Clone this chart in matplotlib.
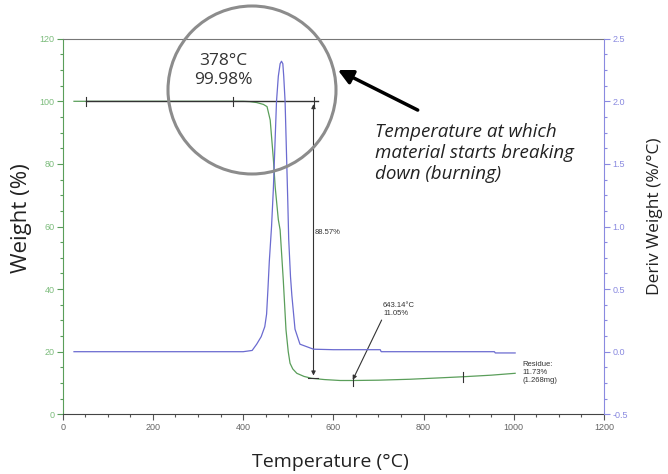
import matplotlib.pyplot as plt
from matplotlib.patches import Ellipse
from matplotlib.ticker import MultipleLocator, FormatStrFormatter

# weight curve (green)
temp_w = [25, 100, 200, 300, 400, 415, 430, 445, 453, 460, 467, 471, 478, 482,
          489, 495, 500, 504, 510, 519, 535, 552, 580, 615, 644, 700, 770, 830,
          888, 950, 1003]
weight = [100, 100, 100, 100, 100, 99.9, 99.6, 99.0, 98.3, 94, 81.6, 72.7, 62.2, 58.9,
          42.9, 27, 20, 16.3, 14.5, 13.1, 12.1, 11.5, 11.1, 10.8, 10.8, 10.9, 11.2, 11.6,
          12.0, 12.5, 13.1]

# derivative curve (blue)
temp_d = [25, 100, 200, 300, 400, 420, 430, 440, 448, 452, 455, 458, 463, 467,
          471, 474, 478, 482, 485, 488, 490, 493, 496, 499, 501, 505, 508, 515,
          526, 556, 600, 704, 706, 957, 959, 1003]
deriv = [0.0, 0.0, 0.0, 0.0, 0.0, 0.01, 0.06, 0.12, 0.2, 0.3, 0.5, 0.72, 1.0, 1.3,
         1.7, 2.0, 2.2, 2.3, 2.32, 2.3, 2.2, 2.0, 1.6, 1.2, 0.9, 0.6, 0.45, 0.18,
         0.06, 0.02, 0.016, 0.016, 0.0, 0.0, -0.01, -0.01]

step_start, onset_t, step_end = 52, 378, 556
start_w, end_w = 100, 11.5
min_t, min_w = 643, 11.0
curve_ticks = [(643, 10.8), (888, 12.0)]

green = '#5a9e5a'
blue = '#6b6bd0'

fig = plt.figure(figsize=(6.68, 4.74), dpi=100)
ax = fig.add_axes([62.7 / 668, 1 - 414.3 / 474, (604 - 62.7) / 668, (414.3 - 38.7) / 474])
ax2 = ax.twinx()

ax.plot(temp_w, weight, color=green, lw=0.9)
ax2.plot(temp_d, deriv, color=blue, lw=0.9)

ax.set_xlim(0, 1200)
ax.set_ylim(0, 120)
ax2.set_ylim(-0.5, 2.5)

ax.xaxis.set_major_locator(MultipleLocator(200))
ax.xaxis.set_minor_locator(MultipleLocator(50))
ax.yaxis.set_major_locator(MultipleLocator(20))
ax.yaxis.set_minor_locator(MultipleLocator(5))
ax2.yaxis.set_major_locator(MultipleLocator(0.5))
ax2.yaxis.set_minor_locator(MultipleLocator(0.125))
ax2.yaxis.set_major_formatter(FormatStrFormatter('%.1f'))

tick_font = dict(family='Liberation Sans', size=6.5)
for lab in ax.get_xticklabels():
    lab.set(**tick_font)
for lab in ax.get_yticklabels():
    lab.set(**tick_font)
for lab in ax2.get_yticklabels():
    lab.set(**tick_font)

ax.tick_params(axis='x', which='major', length=4, width=0.8, color='#555555', labelcolor='#666666', pad=2)
ax.tick_params(axis='x', which='minor', length=2.5, width=0.8, color='#555555')
ax.tick_params(axis='y', which='major', length=4, width=0.8, color=green, labelcolor='#7cbc7c', pad=2)
ax.tick_params(axis='y', which='minor', length=2.5, width=0.8, color=green)
ax2.tick_params(axis='y', which='major', length=4, width=0.8, color='#8a8ae0', labelcolor='#8a8ae0', pad=2)
ax2.tick_params(axis='y', which='minor', length=2.5, width=0.8, color='#8a8ae0')

ax.spines['left'].set_color(green)
ax.spines['bottom'].set_color('#444444')
ax.spines['top'].set_color('#777777')
ax.spines['right'].set_visible(False)
ax2.spines['left'].set_visible(False)
ax2.spines['bottom'].set_visible(False)
ax2.spines['top'].set_visible(False)
ax2.spines['right'].set_color('#8a8ae0')

# step annotation
ax.plot([step_start, step_end + 10], [start_w, start_w], color='#333333', lw=1)
for t in [step_start, onset_t, step_end]:
    ax.plot([t, t], [start_w - 1.4, start_w + 1.4], color='#333333', lw=0.8)
ax.annotate('', xy=(step_end, end_w), xytext=(step_end, start_w),
            arrowprops=dict(arrowstyle='<|-|>', color='#333333', lw=0.8, mutation_scale=6))
ax.plot([step_end - 12, step_end + 10], [end_w, end_w], color='#333333', lw=0.8)
ax.text(step_end + 2, 58, '88.57%', fontsize=5.5, family='Liberation Sans', color='#333333',
        va='center', ha='left')

for t, w in curve_ticks:
    ax.plot([t, t], [w - 1.6, w + 1.6], color='#333333', lw=0.8)

ax.annotate('643.14°C\n11.05%', xy=(min_t, min_w), xytext=(710, 31),
            fontsize=5.5, family='Liberation Sans', color='#333333', va='bottom', ha='left',
            arrowprops=dict(arrowstyle='-|>', color='#333333', lw=0.8, mutation_scale=6,
                            shrinkA=0, shrinkB=0, relpos=(0, 0)))
ax.text(1020, 13.5, 'Residue:\n11.73%\n(1.268mg)', fontsize=5.5, family='Liberation Sans',
        color='#333333', va='center', ha='left', linespacing=1.2)

# highlight circle and callout
circ = Ellipse((252 / 668, 1 - 90 / 474), 168 / 668, 168 / 474, transform=fig.transFigure,
               fill=False, edgecolor='#8c8c8c', lw=2.2)
fig.add_artist(circ)
fig.text(223 / 668, 1 - 70.5 / 474, '378°C\n99.98%', ha='center', va='center', fontsize=12.5,
         family='Open Sans', color='#333333', linespacing=1.2)
ax.annotate('', xy=(610, 110), xytext=(787, 97.2),
            arrowprops=dict(arrowstyle='-|>', color='black', lw=2.5, mutation_scale=22,
                            shrinkA=0, shrinkB=0), annotation_clip=False)
fig.text(375 / 668, 1 - 153 / 474, 'Temperature at which\nmaterial starts breaking\ndown (burning)',
         ha='left', va='center', fontsize=13.5, family='Open Sans', style='italic',
         color='#222222', linespacing=1.2)

fig.text(330 / 668, 1 - 462 / 474, 'Temperature (°C)', ha='center', va='center', fontsize=14,
         family='Open Sans', color='#222222')
fig.text(22 / 668, 1 - 218 / 474, 'Weight (%)', ha='center', va='center', rotation=90,
         fontsize=16, family='Open Sans', color='#222222')
fig.text(655 / 668, 1 - 216 / 474, 'Deriv Weight (%/°C)', ha='center', va='center', rotation=90,
         fontsize=12.5, family='Open Sans', color='#222222')

fig.savefig('out.png', dpi=100)
